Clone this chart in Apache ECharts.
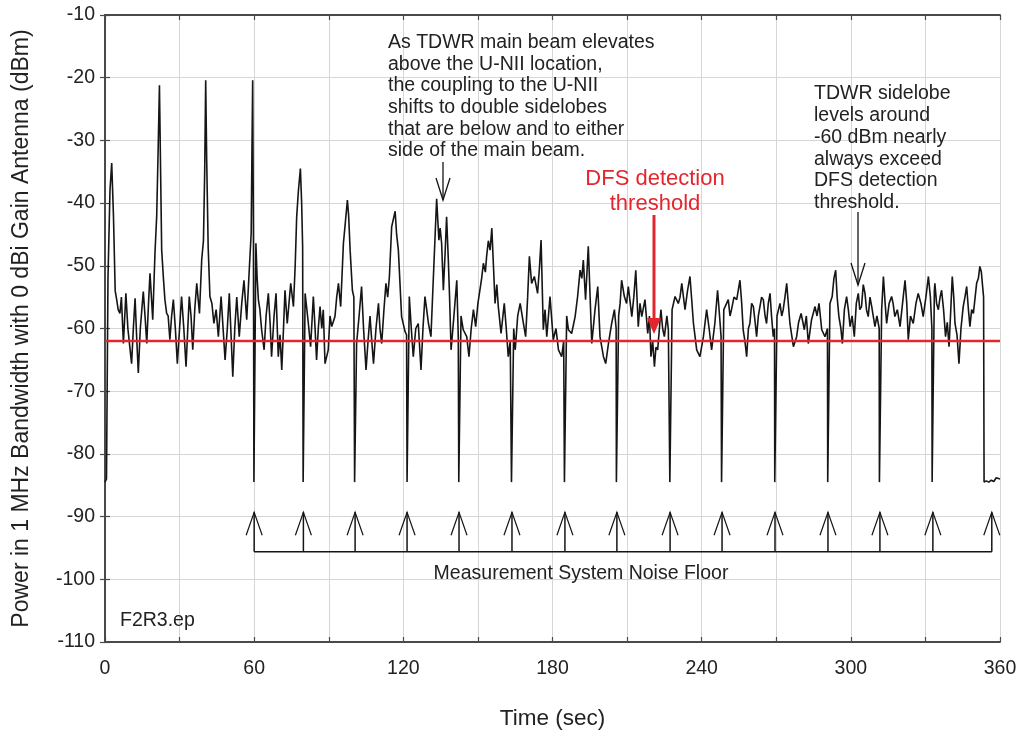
<!DOCTYPE html>
<html>
<head>
<meta charset="utf-8">
<script src="https://cdn.jsdelivr.net/npm/echarts@6/dist/echarts.min.js"></script>
<style>
html,body{margin:0;padding:0;background:#fff;}
#chart{width:1020px;height:730px;}
</style>
</head>
<body>
<div id="chart"></div>
<script>
// ---- data ----
const xTickValues = [0, 60, 120, 180, 240, 300, 360];
const yTickValues = [-110, -100, -90, -80, -70, -60, -50, -40, -30, -20, -10];
const thresholdDbm = -62;
const bracketDbm = -95.6;
const arrowTipDbm = -89.3;
const noiseArrowTimes = [60, 79.8, 100.6, 121.5, 142.4, 163.7, 185, 205.9, 227.3, 248.2, 269.5, 290.8, 311.7, 333, 356.7];

// measured power trace: [time (sec), power (dBm)]
const trace = [
[0,-84.5],[0.6,-84],[1.2,-52],[2,-38],[2.7,-33.6],[3.4,-42],[4.1,-54],[4.7,-55.4],[5.3,-57],[6,-57.6],[6.6,-55],[7.4,-62.4],[8.4,-54.4],[9.2,-60],[10,-63],[10.7,-65.6],[11.4,-60],[12.1,-55.2],[12.8,-62],[13.4,-67.1],[14.2,-60],[15.4,-54.1],[16.1,-58],[16.8,-62.4],[17.5,-56],[18.1,-51.2],[19.2,-58.6],[20.1,-48],[20.8,-42],[21.4,-31],[21.9,-21.2],[22.3,-33],[22.8,-47.5],[23.5,-52],[24.1,-55.4],[24.8,-57.6],[25.4,-58],[26.1,-61.8],[26.8,-58],[27.5,-55.4],[28.3,-60],[29.1,-65.6],[30,-60],[30.8,-54.9],[31.7,-60],[32.6,-66.1],[33.3,-60],[33.9,-54.9],[34.6,-58],[35.3,-63.4],[36.1,-57],[36.9,-52.8],[38,-57.6],[38.9,-49],[39.6,-46],[40.1,-35],[40.5,-20.4],[40.9,-33],[41.5,-47],[42.2,-54.9],[43,-56],[43.8,-59.2],[44.7,-57],[45.6,-61.3],[46.7,-54.9],[47.5,-60],[48.3,-65],[49.2,-60],[50,-54.4],[50.7,-61],[51.4,-67.7],[52.2,-60],[53,-55],[54,-61.3],[55,-56],[55.9,-52.3],[57,-58.6],[58.1,-50.1],[58.8,-44.8],[59.1,-32],[59.4,-20.4],[59.7,-45],[59.9,-84.5],[60.3,-84.5],[60.7,-46.4],[61.2,-52],[61.7,-55.4],
[62.3,-57],[63,-60.2],[64,-63.4],[64.8,-58],[65.7,-54.4],[66.4,-59],[67,-64.5],[68,-58],[68.8,-54.4],[69.7,-64.5],[70.4,-61],[71.1,-66.6],[71.8,-60],[72.4,-53.9],[73.3,-59.2],[74.7,-52.8],[75.8,-56.5],[76.5,-50],[77.1,-42.2],[77.8,-38],[78.6,-34.5],[79.1,-40],[79.5,-47],[79.7,-84.5],[80.1,-84.5],[80.5,-54.4],[81.2,-57],[81.8,-59.2],[82.7,-62.9],[83.8,-54.9],[84.5,-60],[85.1,-65],[85.8,-60],[86.5,-56.5],[87.2,-60],[87.8,-57],[88.5,-65.6],[89.8,-63.4],[90.5,-58],[91.2,-59.7],[92.5,-58.1],[93.2,-55],[93.9,-52.8],[94.8,-56.5],[95.9,-46.4],[96.7,-43],[97.5,-39.5],[98,-42],[98.6,-47.5],[99.5,-53.9],[100.1,-55],[100.4,-84.5],[100.8,-84.5],
[101.2,-62.4],[102.2,-58],[103.2,-53.3],[104,-60],[105,-66.6],[105.8,-62],[106.6,-58],[107.3,-62],[108,-65.6],[109,-60],[110,-56],[110.6,-60],[111.3,-62.4],[112.2,-57],[113,-52.8],[113.7,-55],[114.4,-51.7],[115.3,-43.8],[116,-44],[116.7,-41.3],[117.3,-45],[118,-47.5],[119.3,-58.1],[120.7,-60.5],[121.3,-61],[121.5,-84.5],[121.9,-84.5],
[122.4,-54.9],[123.2,-60],[124,-64.5],[125,-60],[126,-59.2],[127.1,-66.6],[127.9,-60],[128.7,-54.9],[129.4,-57],[130.1,-59.2],[131.1,-61.3],[132.1,-51.7],[132.8,-45],[133.4,-39.3],[134.3,-45.9],[134.8,-44],[135.4,-46.4],[136.1,-53.9],[136.8,-48],[137.4,-42.2],[138.1,-49.1],[138.6,-55],[139.2,-63.4],[140.1,-59.2],[141.5,-52.3],[142.1,-61.3],[142.3,-84.5],[142.7,-84.5],
[143.2,-58],[144.1,-60.2],[145.5,-61.3],[146.4,-64.5],[147.3,-60],[148.2,-57],[149.1,-59.7],[150,-56],[150.8,-56],[151.5,-52],[152.2,-49.6],[153,-51],[153.5,-48.5],[154.2,-46],[154.9,-47.5],[155.6,-44],[156.2,-43.8],[156.9,-56],[157.6,-53],[158.2,-56.5],[159.3,-60.8],[160.6,-56],[161.4,-60],[162.2,-64.5],[163,-62],[163.5,-84.5],[163.9,-84.5],
[164.4,-60],[165,-63.4],[166,-58],[167,-56],[168.3,-59.2],[169.2,-61.3],[170,-55],[170.7,-48.5],[171.6,-52.8],[172.7,-51.7],[174,-54.4],[174.8,-50],[175.4,-45.9],[176.3,-60.2],[177,-57],[177.7,-61.3],[179,-54.9],[180.3,-61.8],[181.4,-60],[182.4,-63.4],[183.7,-64.5],[184.5,-62],[184.8,-84.5],[185.2,-84.5],
[185.7,-58],[186.4,-60.2],[187.7,-60.8],[189.1,-58.1],[190.1,-54.9],[191.1,-50.7],[191.8,-52],[192.4,-49.1],[193.3,-55.4],[194,-50],[194.4,-46.9],[195.8,-62.4],[197.1,-57],[198.2,-53.3],[199.1,-61.3],[200.5,-64.5],[201.4,-65.6],[202.5,-62.4],[203.8,-59.2],[204.9,-57],[205.6,-60],[205.7,-84.5],[206.1,-84.5],
[206.6,-58],[207.2,-56],[207.8,-52.3],[208.9,-54.9],[209.8,-56],[210.5,-53.3],[211.9,-58.1],[212.7,-55],[213.5,-50.7],[214.5,-59.7],[215.2,-56],[215.9,-58.1],[217.2,-55.4],[218.3,-60.8],[219,-58],[219.6,-64.5],[220.3,-62],[221,-66.1],[221.6,-63],[222.3,-63.4],[223,-60],[223.6,-57],[224.3,-60],[225,-61.3],[226,-58],[226.6,-60.2],[227.1,-60],[227.2,-84.5],[227.6,-84.5],
[228.1,-57],[229.3,-54.9],[230.6,-56],[231.3,-55],[232,-52.8],[233.3,-57],[234.3,-54],[235.3,-51.7],[236.7,-59.2],[238,-63.4],[239.3,-64.5],[240.7,-61.3],[242,-57],[243,-60],[244,-63.4],[245.3,-59.2],[246.4,-53.9],[247.2,-58],[247.8,-61.3],[248,-84.5],[248.4,-84.5],
[248.9,-57],[250.7,-55.4],[251.4,-58],[252,-57],[253,-55],[254.1,-55.4],[255.4,-52.3],[256.1,-56],[256.7,-60.2],[257.4,-62],[258.1,-64.5],[258.8,-60],[259.4,-59.2],[260.1,-56],[260.8,-56.5],[261.5,-59],[262.1,-61.3],[262.8,-58],[263.4,-58.1],[264.1,-55],[264.8,-55.4],[265.5,-58],[266.1,-59.2],[266.8,-56],[267.5,-54.4],[268.1,-58],[268.8,-61.3],[269.3,-60],[269.4,-84.5],[269.8,-84.5],
[270.3,-58],[271.5,-56],[272.2,-58],[272.8,-57],[273.5,-55],[274.2,-52.8],[275.5,-59.2],[276.9,-62.9],[278.2,-61.3],[279,-59],[280,-57.6],[281.3,-60.2],[282.1,-58],[282.9,-62.4],[284.2,-58.6],[285.6,-56.5],[286.4,-58],[287.2,-56],[288.3,-60.2],[289.6,-61.3],[290.6,-60],[290.7,-84.5],[291.1,-84.5],
[291.6,-56],[292.5,-54.9],[293.2,-52],[293.9,-50.7],[294.5,-55],[295.2,-58.1],[296,-60],[296.6,-62.4],[297.4,-57],[298.3,-54.9],[299,-57],[299.7,-59.7],[300.5,-58],[301.4,-61.3],[302.2,-56],[303,-54.4],[303.6,-57],[304.3,-56.5],[305,-53],[305.7,-54.4],[306.3,-57],[307,-58.1],[307.7,-55],[308.4,-56.5],[309,-58],[309.7,-59.7],[310.5,-58],[311.4,-60],[311.5,-84.5],[311.9,-84.5],
[312.4,-57],[313.1,-51.7],[313.8,-56],[314.4,-59.2],[315.4,-56],[316.4,-54.9],[317,-56],[317.7,-58.1],[318.7,-57],[319.8,-59.7],[320.8,-56],[321.8,-52.3],[322.5,-56],[323.1,-61.8],[324,-58],[325.1,-59.2],[326.2,-56],[327.1,-54.4],[328.2,-56],[329.1,-58.1],[330.2,-55],[331.2,-51.7],[332,-55],[332.6,-60],[332.7,-84.5],[333.1,-84.5],
[333.6,-54],[333.8,-52.8],[334.5,-56],[335.2,-57],[335.9,-55],[336.5,-53.9],[337.3,-57],[338.1,-61.3],[338.8,-59],[339.5,-62.9],[340.2,-57],[340.8,-51.7],[341.4,-55],[341.9,-59.2],[342.7,-61],[343.5,-65.6],[344.3,-60],[345.2,-56.5],[345.9,-55],[346.6,-53.3],[347.3,-57],[347.9,-59.7],[348.6,-57],[349.3,-57.6],[350,-55],[350.6,-52.8],[351.3,-52],[351.9,-50.1],[352.5,-51],[352.9,-52.8],[353.4,-55],[353.6,-84.5],
[354.5,-84.3],[355.5,-84.5],[356.5,-84.2],[357.5,-84.4],[358.5,-83.8],[359.2,-84],[360,-84]
];

// ---- chart ----
const FONT = 'Liberation Sans, Arial, Helvetica, sans-serif';
const TXT = '#222';
const RED = '#e3262e';
const chart = echarts.init(document.getElementById('chart'), null, {renderer: 'canvas'});

const axisLineStyle = {show: true, lineStyle: {color: '#4a4a4a', width: 2}};
const tickStyle = {show: true, inside: true, length: 5, lineStyle: {color: '#4a4a4a', width: 1.2}};

const option = {
  animation: false,
  backgroundColor: '#fff',
  grid: {left: 105, right: 20, top: 15, bottom: 88, containLabel: false, outerBoundsMode: 'none'},
  xAxis: [{
    type: 'value', min: 0, max: 360, interval: 30, position: 'bottom',
    axisLine: axisLineStyle, axisTick: tickStyle,
    splitLine: {show: true, lineStyle: {color: '#d6d6d6', width: 1}},
    axisLabel: {
      margin: 17, color: TXT, fontSize: 19.5, fontFamily: FONT,
      formatter: v => (xTickValues.indexOf(v) >= 0 ? String(v) : '')
    },
    name: 'Time (sec)', nameLocation: 'middle', nameGap: 65,
    nameTextStyle: {color: TXT, fontSize: 22.5, fontFamily: FONT}
  }, {
    type: 'value', min: 0, max: 360, interval: 30, position: 'top',
    axisLine: axisLineStyle, axisTick: tickStyle,
    axisLabel: {show: false}, splitLine: {show: false}
  }],
  yAxis: [{
    type: 'value', min: -110, max: -10, interval: 10, position: 'left',
    axisLine: axisLineStyle, axisTick: tickStyle,
    splitLine: {show: true, lineStyle: {color: '#d6d6d6', width: 1}},
    axisLabel: {
      margin: 10, color: TXT, fontSize: 19.5, fontFamily: FONT,
      formatter: v => (yTickValues.indexOf(v) >= 0 ? String(v) : '')
    },
    name: 'Power in 1 MHz Bandwidth with 0 dBi Gain Antenna (dBm)',
    nameLocation: 'middle', nameGap: 72,
    nameTextStyle: {color: TXT, fontSize: 23, fontFamily: FONT}
  }, {
    type: 'value', min: -110, max: -10, interval: 10, position: 'right',
    axisLine: axisLineStyle, axisTick: tickStyle,
    axisLabel: {show: false}, splitLine: {show: false}
  }],
  series: [
    {
      type: 'line', name: 'trace', data: trace, showSymbol: false, symbol: 'none',
      sampling: null, lineStyle: {color: '#151515', width: 1.6}, z: 3, silent: true
    },
    {
      type: 'line', name: 'threshold',
      data: [[0, thresholdDbm], [360, thresholdDbm]],
      showSymbol: false, symbol: 'none', lineStyle: {color: RED, width: 2.6}, z: 4, silent: true
    },
    {
      type: 'line', name: 'bracket',
      data: [[noiseArrowTimes[0], bracketDbm], [noiseArrowTimes[noiseArrowTimes.length - 1], bracketDbm]],
      showSymbol: false, symbol: 'none', lineStyle: {color: '#151515', width: 1.5}, z: 3, silent: true
    },
    {
      type: 'custom', name: 'noiseArrows', clip: false, z: 3, silent: true,
      data: noiseArrowTimes.map(t => [t, arrowTipDbm]),
      encode: {x: 0, y: 1},
      renderItem: function (params, api) {
        const tip = api.coord([api.value(0), arrowTipDbm]);
        const base = api.coord([api.value(0), bracketDbm]);
        return {
          type: 'group',
          children: [
            {type: 'line', shape: {x1: tip[0], y1: base[1], x2: tip[0], y2: tip[1]},
             style: {stroke: '#151515', lineWidth: 1.5}},
            {type: 'polyline', shape: {points: [[tip[0] - 8, tip[1] + 23], [tip[0], tip[1]], [tip[0] + 8, tip[1] + 23]]},
             style: {stroke: '#151515', fill: null, lineWidth: 1.2}}
          ]
        };
      }
    }
  ],
  graphic: [
    {type: 'text', left: 388, top: 32, z: 10, silent: true,
     style: {text: 'As TDWR main beam elevates\nabove the U-NII location,\nthe coupling to the U-NII\nshifts to double sidelobes\nthat are below and to either\nside of the main beam.',
       fill: TXT, font: '19.5px ' + FONT, lineHeight: 21.6}},
    {type: 'text', left: 814, top: 83, z: 10, silent: true,
     style: {text: 'TDWR sidelobe\nlevels around\n-60 dBm nearly\nalways exceed\nDFS detection\nthreshold.',
       fill: TXT, font: '19.5px ' + FONT, lineHeight: 21.8}},
    {type: 'text', x: 655, y: 166, z: 10, silent: true,
     style: {text: 'DFS detection\nthreshold', fill: RED, font: '22px ' + FONT, lineHeight: 25, align: 'center'}},
    {type: 'text', left: 120, top: 611, z: 10, silent: true,
     style: {text: 'F2R3.ep', fill: TXT, font: '19.5px ' + FONT}},
    {type: 'text', x: 581, y: 564, z: 10, silent: true,
     style: {text: 'Measurement System Noise Floor', fill: TXT, font: '19.5px ' + FONT, align: 'center'}},
    // red DFS arrow
    {type: 'line', z: 10, silent: true, shape: {x1: 654, y1: 215, x2: 654, y2: 320}, style: {stroke: RED, lineWidth: 3}},
    {type: 'polygon', z: 10, silent: true, shape: {points: [[647, 318], [661, 318], [654, 334]]}, style: {fill: RED}},
    // black annotation arrows
    {type: 'line', z: 10, silent: true, shape: {x1: 443, y1: 162, x2: 443, y2: 200}, style: {stroke: '#151515', lineWidth: 1.3}},
    {type: 'polyline', z: 10, silent: true, shape: {points: [[436, 178], [443, 200], [450, 178]]}, style: {stroke: '#151515', fill: null, lineWidth: 1.3}},
    {type: 'line', z: 10, silent: true, shape: {x1: 858, y1: 212, x2: 858, y2: 285}, style: {stroke: '#151515', lineWidth: 1.3}},
    {type: 'polyline', z: 10, silent: true, shape: {points: [[851, 263], [858, 285], [865, 263]]}, style: {stroke: '#151515', fill: null, lineWidth: 1.3}}
  ]
};
chart.setOption(option);
</script>
</body>
</html>
